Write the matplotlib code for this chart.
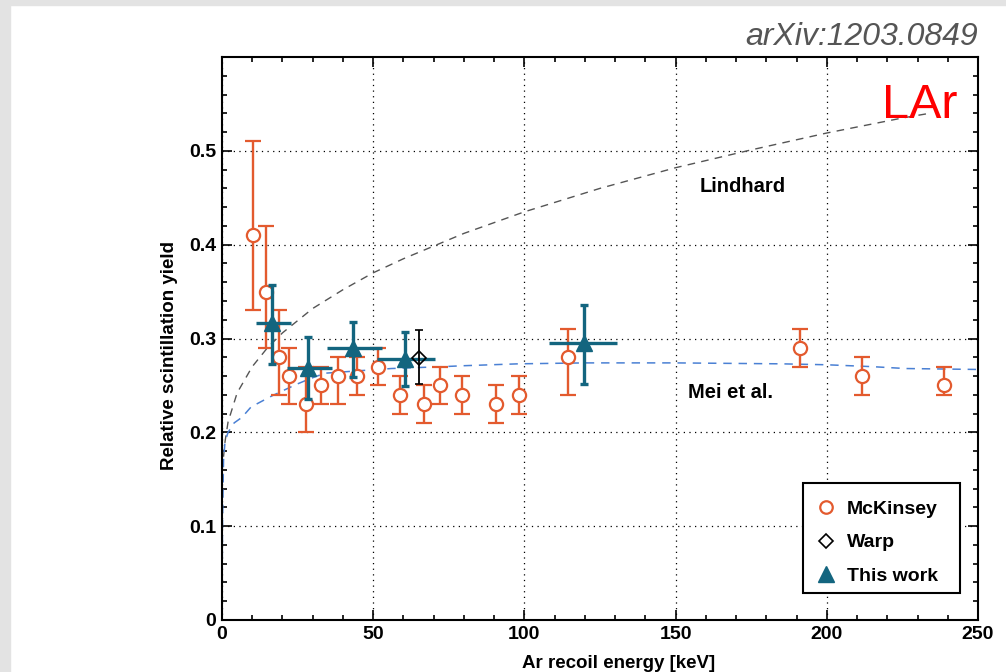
import matplotlib
matplotlib.use("Agg")
import matplotlib.pyplot as plt
from matplotlib.lines import Line2D
from matplotlib.patches import Rectangle
from matplotlib.ticker import MultipleLocator
import numpy as np

# ---------------- data ----------------
mck_E  = [10.1, 14.5, 19.0, 22.1, 27.8, 32.7, 38.5, 44.5, 51.7, 59.0, 66.7, 72.1, 79.3, 90.6, 98.3, 114.3, 191.1, 211.5, 238.9]
mck_Y  = [0.41, 0.35, 0.28, 0.26, 0.23, 0.25, 0.26, 0.26, 0.27, 0.24, 0.23, 0.25, 0.24, 0.23, 0.24, 0.28, 0.29, 0.26, 0.25]
mck_lo = [0.33, 0.29, 0.24, 0.23, 0.20, 0.23, 0.23, 0.24, 0.25, 0.22, 0.21, 0.23, 0.22, 0.21, 0.22, 0.24, 0.27, 0.24, 0.24]
mck_hi = [0.51, 0.42, 0.33, 0.29, 0.27, 0.27, 0.28, 0.28, 0.29, 0.26, 0.25, 0.27, 0.26, 0.25, 0.26, 0.31, 0.31, 0.28, 0.27]

tw_E   = [16.4, 28.5, 43.4, 60.5, 119.7]
tw_Elo = [11.1, 21.4, 34.8, 51.1, 108.2]
tw_Ehi = [22.7, 36.5, 52.8, 70.4, 130.5]
tw_Y   = [0.316, 0.269, 0.290, 0.278, 0.295]
tw_lo  = [0.273, 0.235, 0.259, 0.249, 0.252]
tw_hi  = [0.357, 0.302, 0.318, 0.307, 0.336]

warp_E  = [65.1]
warp_Y  = [0.279]
warp_lo = [0.251]
warp_hi = [0.309]

lind_E = [0.5, 1, 2, 5, 10, 15, 20, 30, 40, 50, 60, 80, 100, 125, 150, 175, 200, 225, 234]
lind_Y = [0.174, 0.19, 0.211, 0.242, 0.27, 0.29, 0.306, 0.332, 0.352, 0.37, 0.385, 0.412, 0.435, 0.46, 0.482, 0.501, 0.519, 0.535, 0.540]

mei_E = [0, 0.15, 0.5, 1, 2, 4, 6.6, 9.6, 12.5, 16.6, 24.5, 29, 34, 47, 56, 73, 80, 98, 120, 150, 185, 200, 215, 226, 250]
mei_Y = [0.0, 0.10, 0.17, 0.19, 0.20, 0.21, 0.216, 0.227, 0.232, 0.239, 0.251, 0.257, 0.263, 0.266, 0.268, 0.27, 0.271, 0.273, 0.274, 0.274, 0.273, 0.272, 0.27, 0.268, 0.267]

# ---------------- styles ----------------
ORANGE = "#e35a2e"
TEAL = "#13657f"
BLUE = "#4a80d4"
FONT = "Liberation Sans"
plt.rcParams["font.family"] = [FONT, "DejaVu Sans"]

fig = plt.figure(figsize=(10.06, 6.72), dpi=100)
fig.patch.set_facecolor("white")
fig.patches.append(Rectangle((0, 0), 10 / 1006, 1, transform=fig.transFigure, color="#e3e3e3", zorder=0))
fig.patches.append(Rectangle((0, 1 - 5 / 672), 1, 5 / 672, transform=fig.transFigure, color="#e3e3e3", zorder=0))

ax = fig.add_axes([222 / 1006, 1 - 620 / 672, 756 / 1006, 563 / 672])
ax.set_xlim(0, 250)
ax.set_ylim(0, 0.6)

# grid
ax.xaxis.set_major_locator(MultipleLocator(50))
ax.xaxis.set_minor_locator(MultipleLocator(10))
ax.yaxis.set_major_locator(MultipleLocator(0.1))
ax.yaxis.set_minor_locator(MultipleLocator(0.02))
ax.grid(True, which="major", color="black", linestyle=(0, (1, 3.5)), linewidth=0.9)
ax.set_axisbelow(True)

for s in ax.spines.values():
    s.set_linewidth(1.5)
ax.tick_params(which="both", direction="in", top=True, right=True, width=1.2)
ax.tick_params(which="major", length=7)
ax.tick_params(which="minor", length=3.5)
ax.tick_params(axis="both", labelsize=14, pad=4)
ax.set_xticks([0, 50, 100, 150, 200, 250])
ax.set_xticklabels(["0", "50", "100", "150", "200", "250"], fontweight="bold")
ax.set_yticks([0, 0.1, 0.2, 0.3, 0.4, 0.5])
ax.set_yticklabels(["0", "0.1", "0.2", "0.3", "0.4", "0.5"], fontweight="bold")

# curves
ax.plot(lind_E, lind_Y, color="#555555", linestyle=(0, (5.5, 4.5)), linewidth=1.0, zorder=2)
ax.plot(mei_E, mei_Y, color=BLUE, linestyle=(0, (5.5, 4.5)), linewidth=1.1, zorder=2)

# McKinsey
mE = np.array(mck_E); mY = np.array(mck_Y)
ax.errorbar(mE, mY, yerr=[mY - np.array(mck_lo), np.array(mck_hi) - mY], fmt="o",
            color=ORANGE, mfc="white", mec=ORANGE, ms=9.5, mew=1.6,
            elinewidth=1.7, capsize=5.8, capthick=1.7, zorder=3)

# This work
tE = np.array(tw_E); tY = np.array(tw_Y)
ax.errorbar(tE, tY, xerr=[tE - np.array(tw_Elo), np.array(tw_Ehi) - tE], fmt="none",
            ecolor=TEAL, elinewidth=2.4, capsize=0, zorder=4)
ax.errorbar(tE, tY, yerr=[tY - np.array(tw_lo), np.array(tw_hi) - tY], fmt="^",
            color=TEAL, ms=11, elinewidth=2.4, capsize=2.8, capthick=2.4, zorder=5)

# Warp
wE = np.array(warp_E); wY = np.array(warp_Y)
ax.errorbar(wE, wY, yerr=[wY - np.array(warp_lo), np.array(warp_hi) - wY], fmt="D",
            color="black", mfc="none", mec="black", ms=7, mew=1.2,
            elinewidth=1.3, capsize=3, capthick=1.3, zorder=6)

# texts
ax.text(158.1, 0.456, "Lindhard", fontsize=14.5, fontweight="bold", ha="left", va="baseline")
ax.text(154.2, 0.2365, "Mei et al.", fontsize=14.5, fontweight="bold", ha="left", va="baseline")
ax.text(218.3, 0.535, "LAr", fontsize=35, color="#ff0000", ha="left", va="baseline")

fig.text(978 / 1006, 1 - 45 / 672, "arXiv:1203.0849", fontsize=23, style="italic",
         color="#555555", ha="right", va="baseline")

fig.text(619 / 1006, 1 - 668 / 672, "Ar recoil energy [keV]", fontsize=13.5, fontweight="bold",
         ha="center", va="baseline")
fig.text(169 / 1006, 1 - 356 / 672, "Relative scintillation yield", fontsize=13.5, fontweight="bold",
         ha="center", va="center", rotation=90)

# legend frame (drawn separately) + legend entries
ax.add_patch(Rectangle(((803 - 222) / 756, (620 - 593) / 563), (960 - 803) / 756, (593 - 483) / 563,
                       transform=ax.transAxes, facecolor="white", edgecolor="black",
                       linewidth=1.5, zorder=9))
handles = [
    Line2D([], [], marker="o", linestyle="none", mfc="white", mec=ORANGE, ms=9, mew=1.6),
    Line2D([], [], marker="D", linestyle="none", mfc="none", mec="black", ms=7, mew=1.2),
    Line2D([], [], marker="^", linestyle="none", color=TEAL, ms=11),
]
leg = ax.legend(handles, ["McKinsey", "Warp", "This work"], loc="upper left",
                bbox_to_anchor=((803 - 222) / 756, (620 - 487) / 563),
                borderaxespad=0, frameon=False,
                prop={"family": FONT, "weight": "bold", "size": 14},
                handlelength=1.0, handletextpad=0.55, labelspacing=0.8, borderpad=0.7)
leg.set_zorder(10)

fig.savefig("out.png", dpi=100, facecolor=fig.get_facecolor())
